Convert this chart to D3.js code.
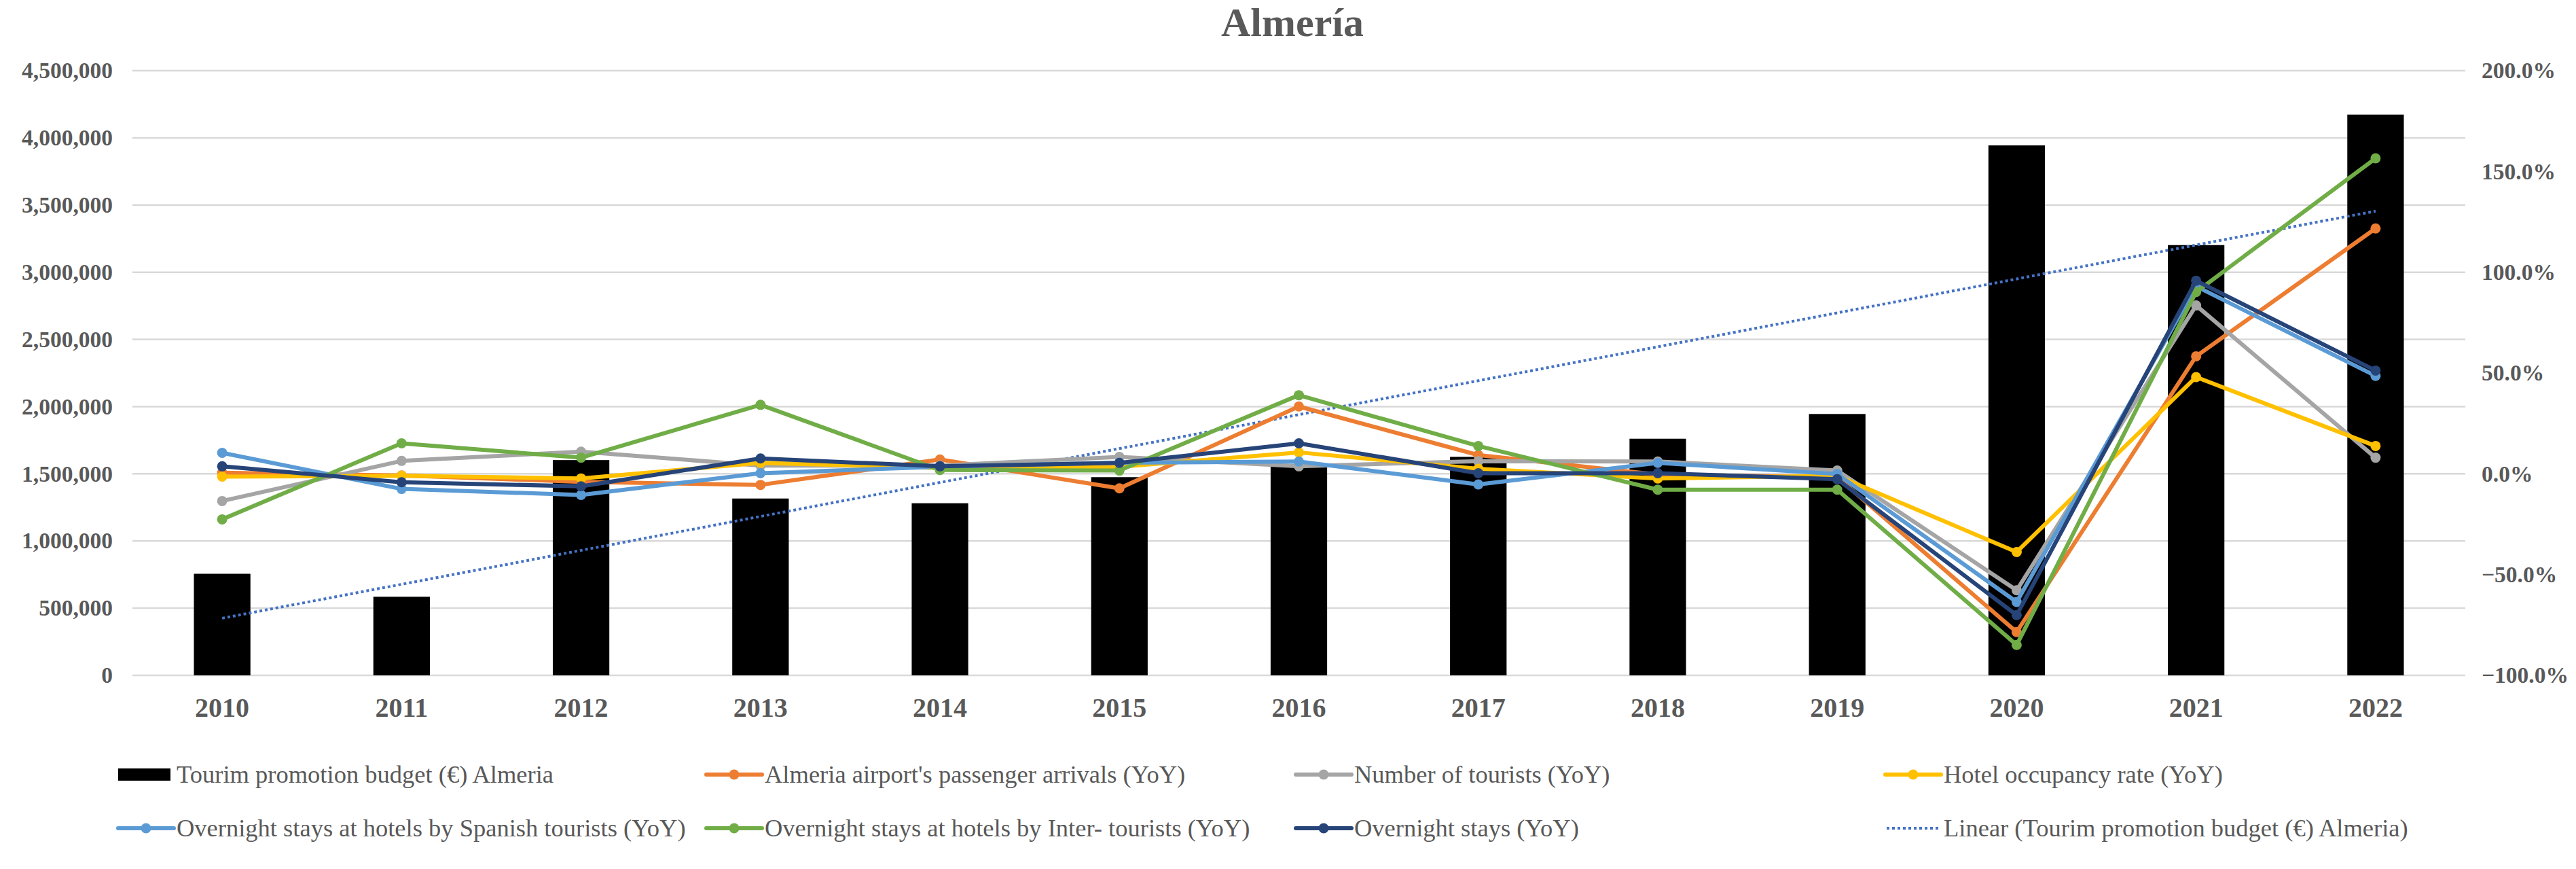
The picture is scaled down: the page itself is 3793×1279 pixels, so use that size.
<!DOCTYPE html>
<html>
<head>
<meta charset="utf-8">
<script src="https://cdn.jsdelivr.net/npm/d3@7"></script>
<style>
  html, body { margin: 0; padding: 0; background: #ffffff; }
  svg { display: block; }
</style>
</head>
<body>
<svg id="chart" width="3793" height="1279"></svg>
<script>
// ---------- DATA ----------
const years = ["2010","2011","2012","2013","2014","2015","2016","2017","2018","2019","2020","2021","2022"];
const budget = [756000, 585000, 1602000, 1316000, 1281000, 1475000, 1556000, 1626000, 1761000, 1945000, 3944000, 3202000, 4173000];
const airportArrivals = [0.5, -0.8, -4.0, -5.5, 7.1, -7.2, 33.4, 9.3, -0.4, -1.7, -78.5, 58.3, 121.7];
const numberTourists  = [-13.5, 6.4, 11.0, 4.1, 4.1, 8.4, 3.7, 6.3, 6.1, 1.6, -57.8, 83.5, 8.0];
const hotelOccupancy  = [-1.4, -1.0, -2.3, 5.4, 2.9, 3.5, 10.6, 2.5, -2.3, -1.0, -38.8, 48.0, 13.8];
const staysSpanish    = [10.4, -7.5, -10.5, 0.3, 3.5, 5.5, 6.1, -5.3, 5.4, -0.1, -63.6, 93.0, 48.6];
const staysInter      = [-22.6, 15.1, 8.0, 34.2, 1.9, 1.6, 39.0, 13.8, -7.9, -7.9, -84.9, 90.2, 156.5];
const overnightStays  = [3.7, -4.2, -6.2, 7.6, 3.7, 5.4, 15.1, 0.3, 0.3, -2.7, -70.1, 95.8, 51.2];
const leftTicks  = [0, 500000, 1000000, 1500000, 2000000, 2500000, 3000000, 3500000, 4000000, 4500000];
const rightTicks = [-1.0, -0.5, 0.0, 0.5, 1.0, 1.5, 2.0];
const titleText = "Almería";
const barName = "Tourim promotion budget (€) Almeria";
const trendName = "Linear (Tourim promotion budget (€) Almeria)";
const lineSeries = [
  { name: "Almeria airport's passenger arrivals (YoY)", values: airportArrivals, color: "#ED7D31" },
  { name: "Number of tourists (YoY)", values: numberTourists, color: "#A5A5A5" },
  { name: "Hotel occupancy rate (YoY)", values: hotelOccupancy, color: "#FFC000" },
  { name: "Overnight stays at hotels by Spanish tourists (YoY)", values: staysSpanish, color: "#5B9BD5" },
  { name: "Overnight stays at hotels by Inter- tourists (YoY)", values: staysInter, color: "#70AD47" },
  { name: "Overnight stays (YoY)", values: overnightStays, color: "#264478" }
];

// ---------- LAYOUT ----------
const svg = d3.select("#chart");
const plotLeft = 195, plotRight = 3630, plotTop = 104, plotBottom = 994;
const textColor = "#595959";
const serif = "'Liberation Serif', 'Times New Roman', Times, serif";

const x = d3.scaleBand().domain(years).range([plotLeft, plotRight]).padding(0);
const cx = d => x(d) + x.bandwidth() / 2;
const barW = x.bandwidth() * 0.315;
const yL = d3.scaleLinear().domain([0, 4500000]).range([plotBottom, plotTop]);
const yR = d3.scaleLinear().domain([-1, 2]).range([plotBottom, plotTop]);

// gridlines
svg.append("g").selectAll("line").data(leftTicks).join("line")
  .attr("x1", plotLeft).attr("x2", plotRight)
  .attr("y1", d => yL(d)).attr("y2", d => yL(d))
  .attr("stroke", "#D9D9D9").attr("stroke-width", 2.5);

// left axis labels
const leftAxis = d3.axisLeft(yL).tickValues(leftTicks).tickFormat(d3.format(",")).tickSize(0).tickPadding(0);
const gL = svg.append("g").attr("transform", `translate(166,0)`).call(leftAxis);
gL.select(".domain").remove();
gL.selectAll("text").attr("font-family", serif).attr("font-weight", "bold")
  .attr("font-size", 33.5).attr("fill", textColor).attr("text-anchor", "end");

// right axis labels
const rightAxis = d3.axisRight(yR).tickValues(rightTicks).tickFormat(d3.format(".1%")).tickSize(0).tickPadding(0);
const gR = svg.append("g").attr("transform", `translate(3654,0)`).call(rightAxis);
gR.select(".domain").remove();
gR.selectAll("text").attr("font-family", serif).attr("font-weight", "bold")
  .attr("font-size", 33.5).attr("fill", textColor).attr("text-anchor", "start");

// bottom axis labels
const bottomAxis = d3.axisBottom(x).tickSize(0).tickPadding(0);
const gB = svg.append("g").attr("transform", `translate(0,${plotBottom})`).call(bottomAxis);
gB.select(".domain").remove();
gB.selectAll("text").attr("font-family", serif).attr("font-weight", "bold")
  .attr("font-size", 40).attr("fill", textColor).attr("dy", null).attr("y", 61);

// bars
svg.append("g").selectAll("rect").data(years).join("rect")
  .attr("x", (d) => cx(d) - barW / 2)
  .attr("width", barW)
  .attr("y", (d, i) => yL(budget[i]))
  .attr("height", (d, i) => yL(0) - yL(budget[i]))
  .attr("fill", "#000000");

// linear trendline (least squares on bar values)
const n = budget.length;
const xs = d3.range(1, n + 1);
const mx = d3.mean(xs), my = d3.mean(budget);
const slope = d3.sum(xs, (v, i) => (v - mx) * (budget[i] - my)) / d3.sum(xs, v => (v - mx) * (v - mx));
const intercept = my - slope * mx;
const trendPts = years.map((d, i) => [cx(d), yL(intercept + slope * (i + 1))]);
svg.append("path")
  .attr("d", d3.line()([trendPts[0], trendPts[n - 1]]))
  .attr("fill", "none").attr("stroke", "#4472C4").attr("stroke-width", 4)
  .attr("stroke-dasharray", "4,4");

// line series
const lineGen = d3.line().x(d => d[0]).y(d => d[1]);
lineSeries.forEach(s => {
  const pts = years.map((d, i) => [cx(d), yR(s.values[i] / 100)]);
  const g = svg.append("g");
  g.append("path").attr("d", lineGen(pts)).attr("fill", "none")
    .attr("stroke", s.color).attr("stroke-width", 6)
    .attr("stroke-linejoin", "round").attr("stroke-linecap", "round");
  g.selectAll("circle").data(pts).join("circle")
    .attr("cx", d => d[0]).attr("cy", d => d[1]).attr("r", 7.5)
    .attr("fill", s.color);
});

// title
svg.append("text").attr("x", 1903).attr("y", 53).attr("text-anchor", "middle")
  .attr("font-family", serif).attr("font-weight", "bold").attr("font-size", 60)
  .attr("fill", textColor).text(titleText);

// legend
const colX = [174, 1040, 1908, 2776];
const rowY = [1140, 1219];
const legendItems = [
  { type: "bar", name: barName, color: "#000000" },
  { type: "line", name: lineSeries[0].name, color: lineSeries[0].color },
  { type: "line", name: lineSeries[1].name, color: lineSeries[1].color },
  { type: "line", name: lineSeries[2].name, color: lineSeries[2].color },
  { type: "line", name: lineSeries[3].name, color: lineSeries[3].color },
  { type: "line", name: lineSeries[4].name, color: lineSeries[4].color },
  { type: "line", name: lineSeries[5].name, color: lineSeries[5].color },
  { type: "trend", name: trendName, color: "#4472C4" }
];
const lg = svg.append("g");
legendItems.forEach((it, i) => {
  const x0 = colX[i % 4], y0 = rowY[Math.floor(i / 4)];
  const g = lg.append("g").attr("transform", `translate(${x0},${y0})`);
  if (it.type === "bar") {
    g.append("rect").attr("x", 0).attr("y", -9).attr("width", 77).attr("height", 18).attr("fill", it.color);
  } else if (it.type === "line") {
    g.append("line").attr("x1", 0).attr("x2", 82).attr("y1", 0).attr("y2", 0)
      .attr("stroke", it.color).attr("stroke-width", 6).attr("stroke-linecap", "round");
    g.append("circle").attr("cx", 41).attr("cy", 0).attr("r", 7.5).attr("fill", it.color);
  } else {
    g.append("line").attr("x1", 2).attr("x2", 80).attr("y1", 0).attr("y2", 0)
      .attr("stroke", it.color).attr("stroke-width", 4).attr("stroke-dasharray", "4,4");
  }
  g.append("text").attr("x", 86).attr("y", 0).attr("dy", "0.33em")
    .attr("font-family", serif).attr("font-size", 36.5).attr("fill", textColor)
    .text(it.name);
});
</script>
</body>
</html>
